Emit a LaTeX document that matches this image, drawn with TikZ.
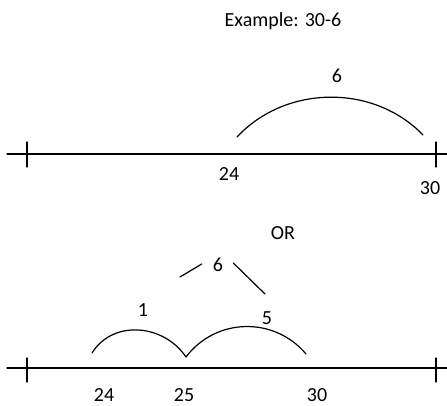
\documentclass[tikz,border=0pt]{standalone}
\usepackage{fontspec}
\setmainfont{Carlito}
\usetikzlibrary{arrows.meta}
\tikzset{
  every picture/.style={line join=round, line cap=round, x=1pt, y=1pt},
  numline/.style={line width=1.2pt},
  hop/.style={line width=1.2pt},
  lbl/.style={font=\fontsize{20}{24}\selectfont, inner sep=0pt},
}
\begin{document}
\begin{tikzpicture}
\useasboundingbox (0,0) rectangle (447,406);
\node[lbl] (title) at (283,385) {Example: 30-6};
\coordinate (aL) at (7,252);
\coordinate (aR) at (447,252);
\draw[numline] (aL) -- (aR);
\draw[numline] (27,239) -- (27,264);
\draw[numline] (436,239) -- (436,264);
\coordinate (aS) at (237,269);
\coordinate (aE) at (423,271);
\draw[hop] (aS) to[out=47,in=134,looseness=0.98] (aE);
\node[lbl] (asix) at (337,330) {6};
\node[lbl] (atf) at (229,232) {24};
\node[lbl] (ath) at (430,218) {30};
\node[lbl] (or) at (283,173) {OR};
\node[lbl] (bsix) at (218,141) {6};
\node[lbl] (bone) at (143,96) {1};
\node[lbl] (bfive) at (267,88) {5};
\coordinate (lsplit) at (180,129);
\coordinate (rsplit) at (265,112);
\draw[hop] ([shift={(-11pt,1pt)}]bsix.west) -- (lsplit);
\draw[hop] ([shift={(10pt,2pt)}]bsix.east) -- (rsplit);
\coordinate (bL) at (7,38);
\coordinate (bR) at (447,38);
\draw[numline] (bL) -- (bR);
\draw[numline] (27,24) -- (27,48);
\draw[numline] (436,24) -- (436,48);
\coordinate (bS) at (92,53);
\coordinate (bM) at (186,49);
\coordinate (bE) at (306,52);
\draw[hop] (bS) to[out=58,in=124,looseness=1.08] (bM);
\draw[hop] (bM) to[out=53,in=130,looseness=1.05] (bE);
\node[lbl] (btf) at (104,11) {24};
\node[lbl] (btw) at (184,11) {25};
\node[lbl] (bth) at (317,11) {30};
\end{tikzpicture}
\end{document}
